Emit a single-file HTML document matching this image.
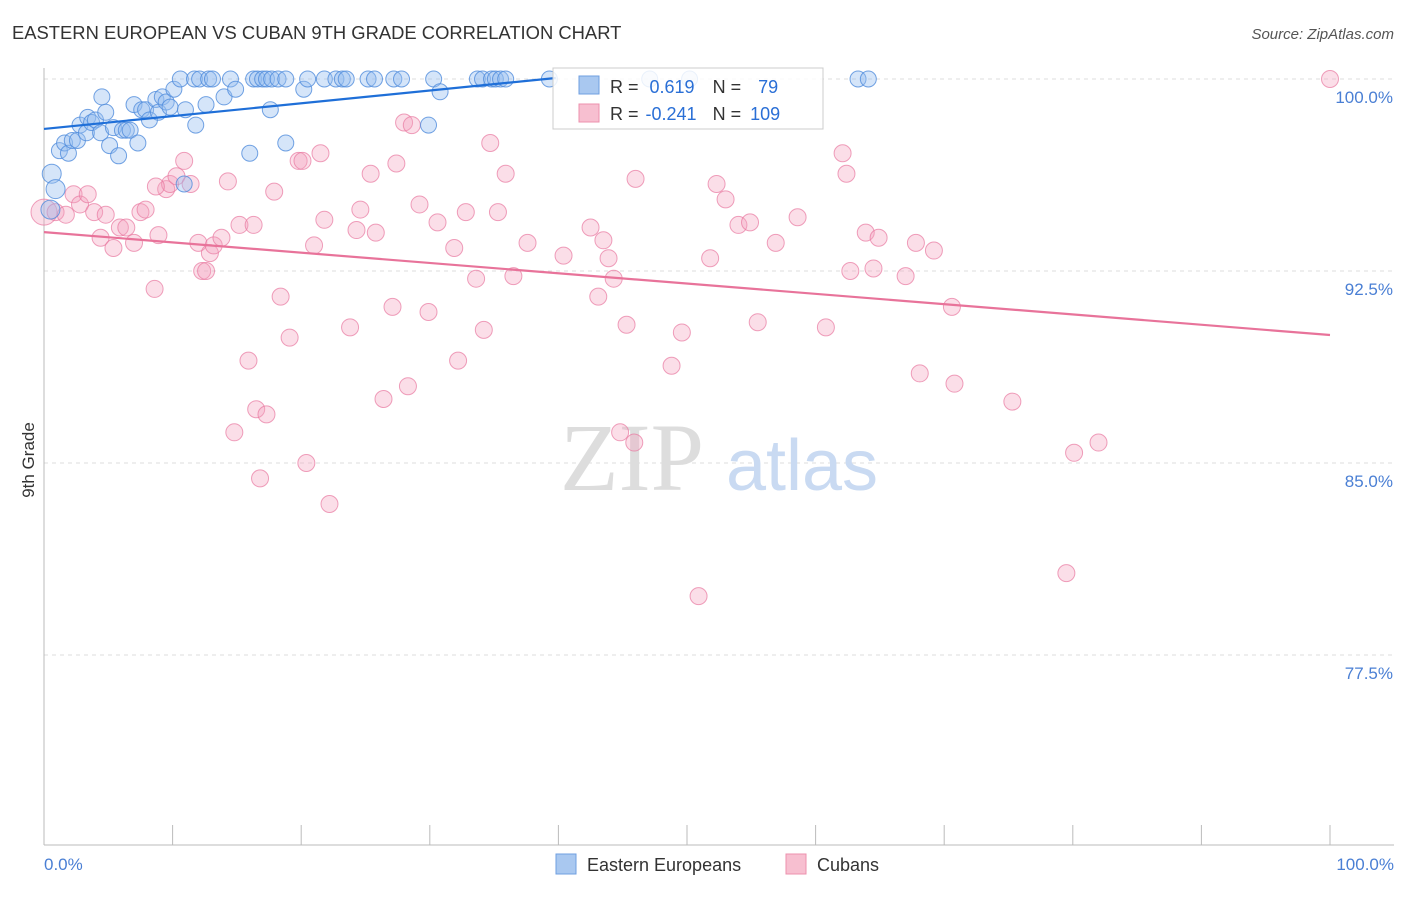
<!DOCTYPE html>
<html><head><meta charset="utf-8"><style>
body{margin:0;background:#fff;font-family:"Liberation Sans",sans-serif;}
</style></head><body>
<svg id="chart" width="1406" height="892" viewBox="0 0 1406 892" xmlns="http://www.w3.org/2000/svg">
<text x="12" y="39" font-size="18.4" fill="#333">EASTERN EUROPEAN VS CUBAN 9TH GRADE CORRELATION CHART</text>
<text x="1394" y="39" font-size="15" fill="#555" text-anchor="end" font-style="italic">Source: ZipAtlas.com</text>
<g id="grid"></g>
<g>
<text x="632" y="490" font-size="96" fill="#ddd" font-family="Liberation Serif,serif" text-anchor="middle">ZIP</text>
<text x="802" y="490" font-size="72" fill="#c9daf2" text-anchor="middle">atlas</text>
</g>
<line x1="44" y1="68" x2="44" y2="845" stroke="#bbb"/>
<line x1="44" y1="845" x2="1394" y2="845" stroke="#bbb"/>
<g id="xticks"></g>
<g id="ylabels"></g>
<text x="34" y="460" font-size="17" fill="#333" transform="rotate(-90 34 460)" text-anchor="middle">9th Grade</text>
<text x="44" y="870" font-size="17" fill="#4a7fd4">0.0%</text>
<text x="1394" y="870" font-size="17" fill="#4a7fd4" text-anchor="end">100.0%</text>
<g id="pink"></g>
<g id="blue"></g>
<g id="lines"></g>
<g>
<rect x="553" y="68" width="270" height="61" fill="#fff" fill-opacity="0.85" stroke="#ccc"/>
<rect x="579" y="76" width="20" height="18" fill="#a9c8f0" stroke="#6f9fe0"/>
<rect x="579" y="104" width="20" height="18" fill="#f7bfd0" stroke="#ec90ae"/>
<text x="610" y="93" font-size="18" fill="#333">R = <tspan fill="#2a6fd6" dx="6">0.619</tspan><tspan dx="18">N = </tspan><tspan fill="#2a6fd6" dx="12">79</tspan></text>
<text x="610" y="120" font-size="18" fill="#333">R = <tspan fill="#2a6fd6" dx="2">-0.241</tspan><tspan dx="16">N = </tspan><tspan fill="#2a6fd6" dx="4">109</tspan></text>
</g>
<g>
<rect x="556" y="854" width="20" height="20" fill="#a9c8f0" stroke="#6f9fe0"/>
<text x="587" y="871" font-size="18" fill="#333">Eastern Europeans</text>
<rect x="786" y="854" width="20" height="20" fill="#f7bfd0" stroke="#ec90ae"/>
<text x="817" y="871" font-size="18" fill="#333">Cubans</text>
</g>
</svg>
<script>
const yTicks=[100,92.5,85,77.5];
const yTickLabels=["100.0%","92.5%","85.0%","77.5%"];
const xTicks=[0,10,20,30,40,50,60,70,80,90,100];
const blueX=[0.6,0.9,0.5,1.2,1.6,1.9,2.2,2.6,2.8,3.3,3.4,3.7,4.0,4.4,4.8,5.1,5.4,5.8,6.1,6.4,6.7,7.0,7.3,7.6,7.9,8.2,8.7,8.9,9.2,9.5,9.8,10.1,10.6,11.0,11.7,11.8,12.1,12.6,12.8,13.1,14.0,14.5,14.9,16.0,16.3,16.6,17.0,17.3,17.6,17.7,18.2,18.8,18.8,20.2,20.5,21.8,22.7,23.2,23.5,25.2,25.7,27.2,27.8,29.9,30.3,30.8,33.7,34.1,34.8,35.1,35.5,35.9,39.3,47.1,50.2,63.3,64.1,10.9,4.5];
const blueY=[96.3,95.7,94.9,97.2,97.5,97.1,97.6,97.6,98.2,97.9,98.5,98.3,98.4,97.9,98.7,97.4,98.1,97.0,98.0,98.0,98.0,99.0,97.5,98.8,98.8,98.4,99.2,98.7,99.3,99.1,98.9,99.6,100,98.8,100,98.2,100,99.0,100,100,99.3,100,99.6,97.1,100,100,100,100,98.8,100,100,100,97.5,99.6,100,100,100,100,100,100,100,100,100,98.2,100,99.5,100,100,100,100,100,100,100,100,100,100,100,95.9,99.3];
const pinkX=[100,0,0.9,1.7,2.3,2.8,3.4,3.9,4.4,4.8,5.4,5.9,6.4,7.0,7.5,7.9,8.6,8.9,9.5,9.8,10.3,10.9,11.4,12.0,12.3,12.6,12.9,13.2,13.8,14.3,14.8,15.2,15.9,16.5,16.8,17.3,17.9,18.4,19.1,19.8,20.1,20.4,21.0,21.5,21.8,22.2,23.8,24.3,24.6,25.4,25.8,26.4,27.1,27.4,28.0,28.3,28.6,29.2,29.9,30.6,31.9,32.2,32.8,33.6,34.2,34.7,35.3,35.9,36.5,37.6,40.4,42.5,43.1,43.5,43.9,44.3,44.8,45.3,45.9,46.0,48.8,49.6,50.9,51.8,52.3,53.0,54.0,54.9,55.5,56.9,58.6,60.8,62.1,62.4,62.7,63.9,64.5,64.9,67.0,67.8,68.1,69.2,70.6,70.8,75.3,79.5,80.1,82.0,8.7,16.3];
const pinkY=[100,94.8,94.8,94.7,95.5,95.1,95.5,94.8,93.8,94.7,93.4,94.2,94.2,93.6,94.8,94.9,91.8,93.9,95.7,95.9,96.2,96.8,95.9,93.6,92.5,92.5,93.2,93.5,93.8,96.0,86.2,94.3,89.0,87.1,84.4,86.9,95.6,91.5,89.9,96.8,96.8,85.0,93.5,97.1,94.5,83.4,90.3,94.1,94.9,96.3,94.0,87.5,91.1,96.7,98.3,88.0,98.2,95.1,90.9,94.4,93.4,89.0,94.8,92.2,90.2,97.5,94.8,96.3,92.3,93.6,93.1,94.2,91.5,93.7,93.0,92.2,86.2,90.4,85.8,96.1,88.8,90.1,79.8,93.0,95.9,95.3,94.3,94.4,90.5,93.6,94.6,90.3,97.1,96.3,92.5,94.0,92.6,93.8,92.3,93.6,88.5,93.3,91.1,88.1,87.4,80.7,85.4,85.8,95.8,94.3];
const blueTrend=[[0,98.05],[39.8,100.04]];
const pinkTrend=[[0,94.02],[100,90.0]];
const NS="http://www.w3.org/2000/svg";
const X0=44,X1=1330,Y0=845,Y1=79,YMIN=70.08,YMAX=100;
function sx(v){return X0+(v/100)*(X1-X0);}
function sy(v){return Y0-(v-YMIN)/(YMAX-YMIN)*(Y0-Y1);}
function mk(t,a,p){const e=document.createElementNS(NS,t);for(const k in a)e.setAttribute(k,a[k]);document.getElementById(p).appendChild(e);return e;}
yTicks.forEach((t,i)=>{
 const l=mk('line',{x1:44,x2:1394,y1:sy(t),y2:sy(t),stroke:'#ddd','stroke-dasharray':'4,4'},'grid');
 
 
 const tx=mk('text',{x:1393,y:sy(t)+24,'font-size':17,fill:'#4a7fd4','text-anchor':'end'},'ylabels');
 tx.textContent=yTickLabels[i];
 
 
});
xTicks.forEach(t=>{
 const l=mk('line',{x1:sx(t),x2:sx(t),y1:825,y2:845,stroke:'#bbb'},'xticks');
 
 
});
pinkX.forEach((v,i)=>{
 const r=(i===1)?13:8.5;
 const c=mk('circle',{cx:sx(v),cy:sy(pinkY[i]),r:r,fill:'rgba(244,160,188,0.35)',stroke:'rgba(232,120,160,0.7)','stroke-width':1},'pink');
 
 
});
blueX.forEach((v,i)=>{
 const r=(i<3)?9.5:8;
 const c=mk('circle',{cx:sx(v),cy:sy(blueY[i]),r:r,fill:'rgba(150,190,240,0.4)',stroke:'rgba(80,140,220,0.8)','stroke-width':1},'blue');
 
 
});
const bl=mk('line',{x1:sx(blueTrend[0][0]),y1:sy(blueTrend[0][1]),x2:sx(blueTrend[1][0]),y2:sy(blueTrend[1][1]),stroke:'#1f6fd8','stroke-width':2.2},'lines');


const pl=mk('line',{x1:sx(pinkTrend[0][0]),y1:sy(pinkTrend[0][1]),x2:sx(pinkTrend[1][0]),y2:sy(pinkTrend[1][1]),stroke:'#e8739a','stroke-width':2.2},'lines');


</script>
</body></html>
